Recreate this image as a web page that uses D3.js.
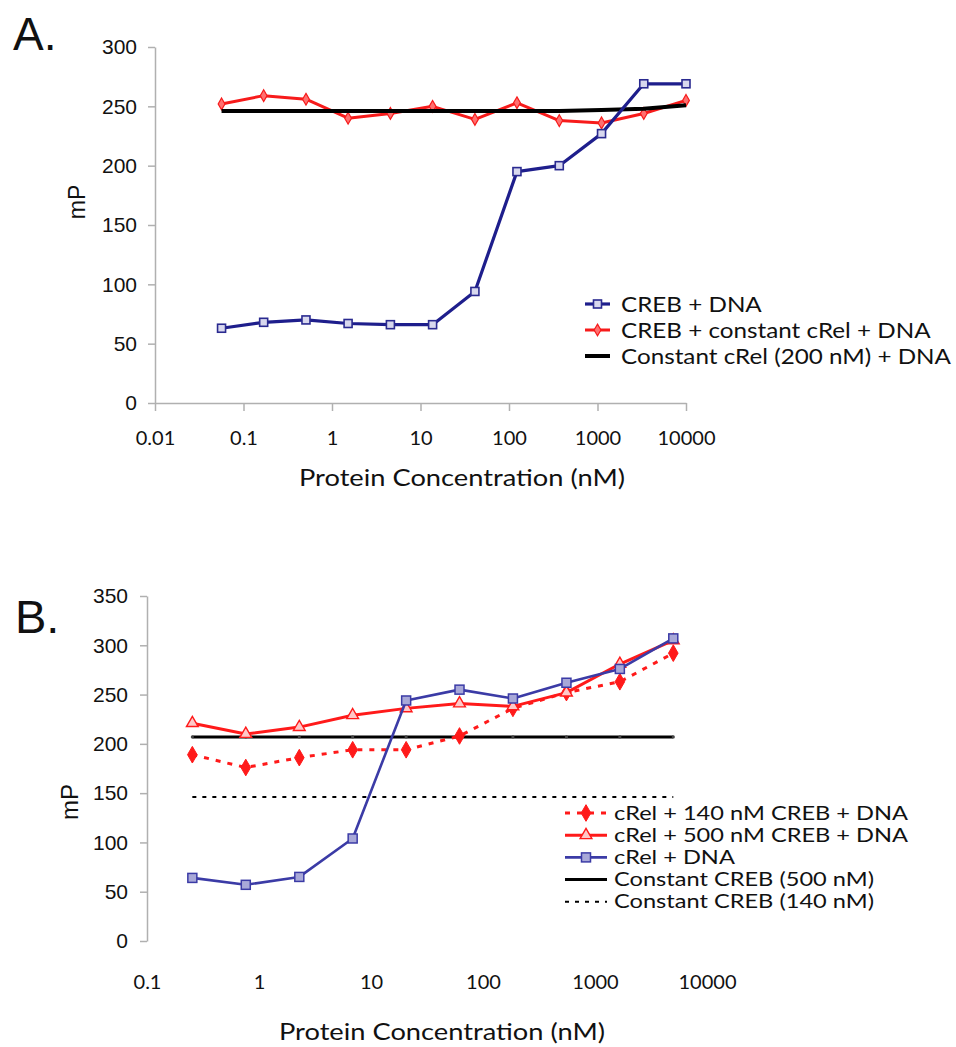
<!DOCTYPE html>
<html>
<head>
<meta charset="utf-8">
<script src="https://cdn.jsdelivr.net/npm/d3@7"></script>
<style>
body { margin: 0; background: #fff; }
</style>
</head>
<body>
<script>
// ---- panel A data (CREB titration) ----
var concA = [0.0565, 0.169, 0.508, 1.52, 4.57, 13.7, 41.2, 123, 370, 1111, 3333, 10000];
var crebDnaA = [63, 68, 70, 67, 66, 66, 94, 195, 200, 227, 269, 269];
var crebCrelDnaA = [252, 259, 256, 240, 244, 250, 239, 253, 238, 236, 244, 255];
var constCrelA = [246, 246, 246, 246, 246, 246, 246, 246, 246, 247, 248, 251];
var yTicksA = [0, 50, 100, 150, 200, 250, 300];
var xTicksA = [0.01, 0.1, 1, 10, 100, 1000, 10000];
var xLabelsA = ["0.01", "0.1", "1", "10", "100", "1000", "10000"];
var legendA = ["CREB + DNA", "CREB + constant cRel + DNA", "Constant cRel (200 nM) + DNA"];

// ---- panel B data (cRel titration) ----
var concB = [0.254, 0.762, 2.29, 6.86, 20.6, 61.7, 185, 556, 1667, 5000];
var crel140B = [189, 176, 186, 194, 194, 208, 236, 252, 263, 292];
var crel500B = [221, 210, 217, 229, 236, 241, 238, 252, 281, 305];
var crelDnaB = [64, 57, 65, 104, 244, 255, 246, 262, 276, 307];
var constCreb500B = [207, 207, 207, 207, 207, 207, 207, 207, 207, 207];
var constCreb140B = [146, 146, 146, 146, 146, 146, 146, 146, 146, 146];
var yTicksB = [0, 50, 100, 150, 200, 250, 300, 350];
var xTicksB = [0.1, 1, 10, 100, 1000, 10000];
var xLabelsB = ["0.1", "1", "10", "100", "1000", "10000"];
var legendB = ["cRel + 140 nM CREB + DNA", "cRel + 500 nM CREB + DNA", "cRel + DNA",
               "Constant CREB (500 nM)", "Constant CREB (140 nM)"];

var myriad = "Lato, 'Open Sans', sans-serif";
var arial = "'Liberation Sans', Arial, sans-serif";

var svg = d3.select("body").append("svg")
    .attr("width", 956)
    .attr("height", 1047);

// the original figure is stretched sideways, so widen the text to the same width
function stretchTo(texts, target) {
    var longest = d3.max(texts.nodes(), function(n) { return n.getComputedTextLength(); });
    var k = target / longest;
    texts.each(function() {
        d3.select(this)
            .attr("textLength", this.getComputedTextLength() * k)
            .attr("lengthAdjust", "spacingAndGlyphs");
    });
}

function drawMarkers(g, xs, ys, x, y, m) {
    var pts = d3.zip(xs, ys);
    if (m.type == "square") {
        g.selectAll(null).data(pts).enter().append("rect")
            .attr("x", function(d) { return x(d[0]) - m.size / 2; })
            .attr("y", function(d) { return y(d[1]) - m.size / 2; })
            .attr("width", m.size).attr("height", m.size)
            .style("fill", m.fill).style("stroke", m.stroke).style("stroke-width", m.sw);
    } else if (m.type == "dot") {
        g.selectAll(null).data(pts).enter().append("circle")
            .attr("cx", function(d) { return x(d[0]); })
            .attr("cy", function(d) { return y(d[1]); })
            .attr("r", m.size)
            .style("fill", m.fill);
    } else {
        var sym = d3.symbol().type(m.type == "diamond" ? d3.symbolDiamond : d3.symbolTriangle).size(m.area);
        g.selectAll(null).data(pts).enter().append("path")
            .attr("d", sym)
            .attr("transform", function(d) { return "translate(" + x(d[0]) + "," + y(d[1]) + ")"; })
            .style("fill", m.fill).style("stroke", m.stroke).style("stroke-width", m.sw);
    }
}

function drawSeries(g, xs, ys, x, y, s) {
    var line = d3.line()
        .x(function(d) { return x(d[0]); })
        .y(function(d) { return y(d[1]); });
    g.append("path")
        .datum(d3.zip(xs, ys))
        .attr("d", line)
        .style("fill", "none")
        .style("stroke", s.color)
        .style("stroke-width", s.width)
        .style("stroke-dasharray", s.dash || null)
        .style("stroke-linejoin", "round");
    if (s.marker) drawMarkers(g, xs, ys, x, y, s.marker);
}

function drawLegendSymbol(g, x0, x1, yy, s) {
    g.append("line")
        .attr("x1", x0).attr("x2", x1).attr("y1", yy).attr("y2", yy)
        .style("stroke", s.color).style("stroke-width", s.width)
        .style("stroke-dasharray", s.dash || null);
    if (s.marker && s.marker.type != "dot") {
        var fx = function() { return (x0 + x1) / 2; };
        var fy = function() { return yy; };
        drawMarkers(g, [0], [0], fx, fy, s.marker);
    }
}

// ================= panel A =================
var xA = d3.scaleLog().domain([0.01, 10000]).range([155, 686]);
var yA = d3.scaleLinear().domain([0, 300]).range([403, 47]);

var seriesA = [
    {vals: crebCrelDnaA, color: "#f71b1b", width: 3,
        marker: {type: "diamond", area: 40, fill: "#ff7070", stroke: "#f71b1b", sw: 1.2}},
    {vals: constCrelA, color: "#000", width: 4},
    {vals: crebDnaA, color: "#1e1e8c", width: 3.2,
        marker: {type: "square", size: 8, fill: "#d8d8ee", stroke: "#2a2a90", sw: 1.6}}
];
var legendOrderA = [2, 0, 1];

var gA = svg.append("g");

var yAxisA = gA.append("g")
    .attr("transform", "translate(155,0)")
    .call(d3.axisLeft(yA).tickValues(yTicksA).tickSize(7).tickSizeOuter(0).tickPadding(11));
var xAxisA = gA.append("g")
    .attr("transform", "translate(0,403)")
    .call(d3.axisBottom(xA).tickValues(xTicksA).tickSize(8).tickSizeOuter(0).tickPadding(20)
        .tickFormat(function(d, i) { return xLabelsA[i]; }));

yAxisA.selectAll("text").style("font-family", arial).style("font-size", "21px").style("fill", "#111");
xAxisA.selectAll("text").style("font-family", myriad).style("font-size", "20px").style("fill", "#111");
gA.selectAll(".domain, .tick line").style("stroke", "#b0b0b0").style("stroke-width", 1.5);

seriesA.forEach(function(s) { drawSeries(gA, concA, s.vals, xA, yA, s); });

gA.append("text")
    .attr("x", 13).attr("y", 50)
    .style("font-family", arial).style("font-size", "46px").style("fill", "#111")
    .text("A.");
gA.append("text")
    .attr("transform", "translate(85,202) rotate(-90)")
    .attr("text-anchor", "middle")
    .style("font-family", arial).style("font-size", "23px").style("fill", "#111")
    .text("mP");
var titleA = gA.append("text")
    .attr("x", 462).attr("y", 486)
    .attr("text-anchor", "middle")
    .style("font-family", myriad).style("font-size", "23px").style("fill", "#111")
    .text("Protein Concentration (nM)");
stretchTo(titleA, 326);

var legTextA = gA.append("g");
legendOrderA.forEach(function(k, i) {
    var yy = 304 + i * 26;
    drawLegendSymbol(gA, 585, 610, yy, seriesA[k]);
    legTextA.append("text")
        .attr("x", 621).attr("y", yy).attr("dy", "0.36em")
        .style("font-family", myriad).style("font-size", "21px").style("fill", "#111")
        .text(legendA[i]);
});
stretchTo(legTextA.selectAll("text"), 330);

// ================= panel B =================
var xB = d3.scaleLog().domain([0.1, 10000]).range([147, 707]);
var yB = d3.scaleLinear().domain([0, 350]).range([941, 596]);

var seriesB = [
    {vals: constCreb140B, color: "#000", width: 2, dash: "4,6"},
    {vals: constCreb500B, color: "#000", width: 3,
        marker: {type: "dot", size: 1.6, fill: "#444"}},
    {vals: crel140B, color: "#ff1a1a", width: 3, dash: "5,7",
        marker: {type: "diamond", area: 80, fill: "#ff1a1a", stroke: "#ff1a1a", sw: 1}},
    {vals: crel500B, color: "#ff1a1a", width: 3,
        marker: {type: "triangle", area: 60, fill: "#ffc8c8", stroke: "#ff1a1a", sw: 1.4}},
    {vals: crelDnaB, color: "#3b3ba6", width: 2.6,
        marker: {type: "square", size: 9, fill: "#a8a8d8", stroke: "#3b3ba6", sw: 1.5}}
];
var legendOrderB = [2, 3, 4, 1, 0];

var gB = svg.append("g");

var yAxisB = gB.append("g")
    .attr("transform", "translate(147,0)")
    .call(d3.axisLeft(yB).tickValues(yTicksB).tickSize(7).tickSizeOuter(0).tickPadding(12));
var xAxisB = gB.append("g")
    .attr("transform", "translate(0,941)")
    .call(d3.axisBottom(xB).tickValues(xTicksB).tickSize(0).tickPadding(34)
        .tickFormat(function(d, i) { return xLabelsB[i]; }));
xAxisB.select(".domain").remove();

yAxisB.selectAll("text").style("font-family", arial).style("font-size", "21px").style("fill", "#111");
xAxisB.selectAll("text").style("font-family", myriad).style("font-size", "20px").style("fill", "#111");
gB.selectAll(".domain, .tick line").style("stroke", "#b0b0b0").style("stroke-width", 1.5);

seriesB.forEach(function(s) { drawSeries(gB, concB, s.vals, xB, yB, s); });

gB.append("text")
    .attr("x", 15).attr("y", 633)
    .style("font-family", arial).style("font-size", "47px").style("fill", "#111")
    .text("B.");
gB.append("text")
    .attr("transform", "translate(78,802) rotate(-90)")
    .attr("text-anchor", "middle")
    .style("font-family", arial).style("font-size", "24px").style("fill", "#111")
    .text("mP");
var titleB = gB.append("text")
    .attr("x", 442).attr("y", 1040)
    .attr("text-anchor", "middle")
    .style("font-family", myriad).style("font-size", "23px").style("fill", "#111")
    .text("Protein Concentration (nM)");
stretchTo(titleB, 326);

var legTextB = gB.append("g");
legendOrderB.forEach(function(k, i) {
    var yy = 813 + i * 22.2;
    drawLegendSymbol(gB, 565, 607, yy, seriesB[k]);
    legTextB.append("text")
        .attr("x", 614).attr("y", yy).attr("dy", "0.36em")
        .style("font-family", myriad).style("font-size", "18.5px").style("fill", "#111")
        .text(legendB[i]);
});
stretchTo(legTextB.selectAll("text"), 294);
</script>
</body>
</html>
